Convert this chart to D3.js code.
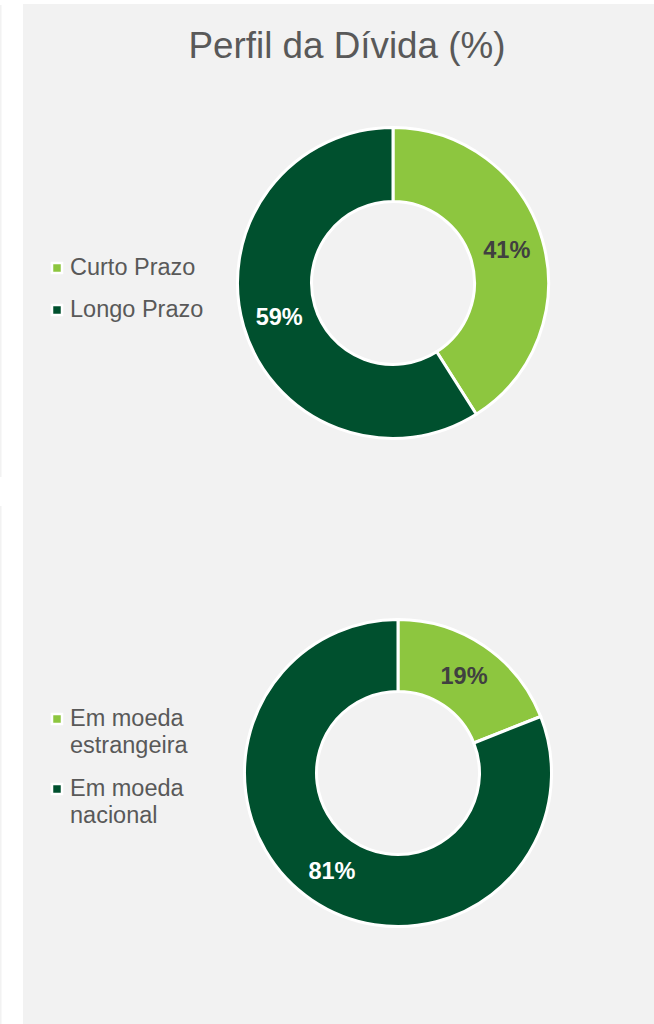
<!DOCTYPE html>
<html>
<head>
  <meta charset="utf-8">
  <title>Perfil da Dívida</title>
  <style>
    body { margin: 0; background: #ffffff; }
    svg { display: block; font-family: "Liberation Sans", Arial, sans-serif; }
  </style>
</head>
<body>
  <script src="https://d3js.org/d3.v7.min.js"></script>
  <script>
    // chart data
    const title = "Perfil da Dívida (%)";
    const prazoLabels = ["Curto Prazo", "Longo Prazo"];
    const prazoValues = [41, 59];
    const moedaLabels = [["Em moeda", "estrangeira"], ["Em moeda", "nacional"]];
    const moedaValues = [19, 81];
    const colors = ["#8dc63f", "#00502e"];
    const labelColors = ["#404040", "#ffffff"];

    const width = 654, height = 1024;
    const svg = d3.select("body").append("svg")
      .attr("width", width).attr("height", height);

    // panel background + thin strip on the left
    svg.append("rect").attr("x", 23).attr("y", 4)
      .attr("width", width - 23).attr("height", height - 4).attr("fill", "#f2f2f2");
    svg.append("rect").attr("x", 0).attr("y", 5).attr("width", 1.5).attr("height", 472).attr("fill", "#f2f2f2");
    svg.append("rect").attr("x", 0).attr("y", 506).attr("width", 1.5).attr("height", height - 506).attr("fill", "#f2f2f2");

    svg.append("text")
      .attr("x", 347).attr("y", 58)
      .attr("text-anchor", "middle")
      .attr("font-size", 36.8)
      .attr("fill", "#595959")
      .text(title);

    const pie = d3.pie().sort(null).value(d => d);

    function donut(values, cx, cy, rOuter, rInner) {
      const arc = d3.arc().innerRadius(rInner).outerRadius(rOuter);
      const g = svg.append("g").attr("transform", `translate(${cx},${cy})`);
      const arcs = pie(values);
      g.selectAll("path")
        .data(arcs)
        .join("path")
        .attr("d", arc)
        .attr("fill", (d, i) => colors[i])
        .attr("stroke", "#ffffff")
        .attr("stroke-width", 3)
        .attr("stroke-linejoin", "round");
      g.selectAll("text")
        .data(arcs)
        .join("text")
        .attr("transform", d => `translate(${arc.centroid(d)})`)
        .attr("dy", "0.36em")
        .attr("text-anchor", "middle")
        .attr("font-size", 23.5)
        .attr("font-weight", "bold")
        .attr("fill", (d, i) => labelColors[i])
        .text(d => d.data + "%");
    }

    function legend(items, x, ys, lineH) {
      items.forEach((lines, i) => {
        const y = ys[i];
        svg.append("rect")
          .attr("x", x).attr("y", y - 12)
          .attr("width", 10).attr("height", 10)
          .attr("fill", colors[i])
          .attr("stroke", "#ffffff").attr("stroke-width", 2.5);
        const t = svg.append("text")
          .attr("x", x + 18).attr("y", y)
          .attr("font-size", 23.5)
          .attr("fill", "#595959");
        [].concat(lines).forEach((ln, k) => {
          t.append("tspan").attr("x", x + 18).attr("dy", k ? lineH : 0).text(ln);
        });
      });
    }

    donut(prazoValues, 393, 283, 155.5, 81.5);
    legend(prazoLabels, 52, [275, 317], 27);

    donut(moedaValues, 398, 773, 153.5, 81.5);
    legend(moedaLabels, 52, [726, 796], 27);
  </script>
</body>
</html>
